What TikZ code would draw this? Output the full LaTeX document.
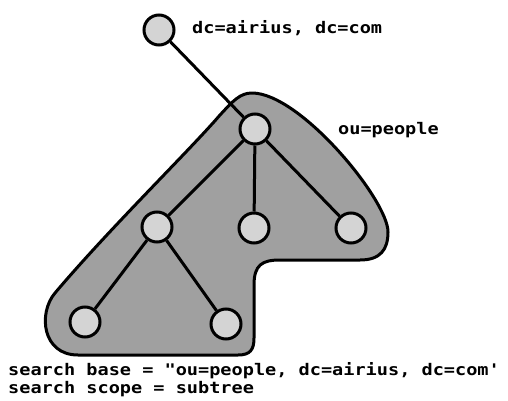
\documentclass[tikz,border=0pt]{standalone}
\usepackage{fontspec}
\usepackage{graphicx}
\newfontfamily\pixfont{DejaVu Sans Mono}
\definecolor{blobgray}{HTML}{A0A0A0}
\definecolor{nodegray}{HTML}{D4D4D4}
\tikzset{
  entry/.style={circle, draw=black, fill=nodegray, line width=3pt, minimum size=30pt, inner sep=0pt},
  link/.style={draw=black, line width=3pt},
  lbl/.style={anchor=base west, inner sep=0pt, font=\pixfont\bfseries\fontsize{16}{18}\selectfont}
}
\newcommand{\wide}[1]{\scalebox{1.16}[1]{#1}}
\begin{document}
\begin{tikzpicture}[x=1pt,y=-1pt]
\useasboundingbox (0,0) rectangle (508,401);
% subtree region
\draw[line width=3pt, fill=blobgray, line join=round]
  (252,93) .. controls (240,93) and (233,101) .. (220,115)
  .. controls (190,150) and (110,228) .. (55,293)
  .. controls (38,313) and (42,355) .. (78,355)
  -- (238,355) .. controls (250,355) and (254,350) .. (254,338)
  -- (254,285) .. controls (254,265) and (262,260) .. (280,260)
  -- (360,260) .. controls (380,260) and (388,250) .. (388,232)
  .. controls (388,200) and (300,93) .. (252,93) -- cycle;
% nodes
\node[entry] (root) at (159,30) {};
\node[entry] (ou) at (255,129) {};
\node[entry] (a) at (157,227) {};
\node[entry] (b) at (254,228) {};
\node[entry] (c) at (351,228) {};
\node[entry] (d) at (85,322) {};
\node[entry] (e) at (226,324) {};
% connectors
\path[link] (root) -- (ou);
\path[link] (ou) -- (a);
\path[link] (ou) -- (b);
\path[link] (ou) -- (c);
\path[link] (a) -- (d);
\path[link] (a) -- (e);
% labels
\node[lbl] (l1) at (192,34) {\wide{dc=airius, dc=com}};
\node[lbl] (l2) at (338,135) {\wide{ou=people}};
\node[lbl] (l3) at (8,375) {\wide{search base = "ou=people, dc=airius, dc=com'}};
\node[lbl] (l4) at (8,393) {\wide{search scope = subtree}};
\end{tikzpicture}
\end{document}
